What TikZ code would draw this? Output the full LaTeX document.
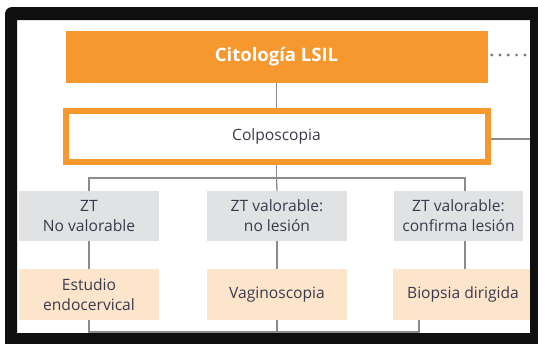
\documentclass[tikz,border=0pt]{standalone}
\usepackage{fontspec}
\setmainfont{Open Sans}
\definecolor{naranja}{HTML}{F7982E}
\definecolor{gris}{HTML}{E1E2E4}
\definecolor{melocoton}{HTML}{FDE5CC}
\definecolor{texto}{HTML}{3A3A4C}
\definecolor{linea}{HTML}{8C8C8C}
\tikzset{
  caja/.style={shape=rectangle, inner sep=0pt, align=center, text=texto,
    font=\fontsize{15.6}{20}\selectfont},
  zona/.style={caja, fill=gris, minimum width=140pt, minimum height=50pt},
  conducta/.style={caja, fill=melocoton, minimum width=140pt, minimum height=51pt},
  conector/.style={draw=linea, line width=1.3pt},
  puntos/.style={draw=linea!85!black, line width=3.2pt, line cap=round, dash pattern=on 0pt off 8.3pt},
}
\newcommand{\zona}{\node[zona]}
\newcommand{\conducta}{\node[conducta]}

\begin{document}
\begin{tikzpicture}[x=1pt,y=-1pt]
	\useasboundingbox (0,0) rectangle (538,343);
	\node[caja, fill=naranja, minimum width=422pt, minimum height=52pt, text=white,
		font=\bfseries\fontsize{18.5}{22}\selectfont] (citologia) at (276.5,57) {Citología LSIL};
	\node[caja, draw=naranja, line width=6pt, fill=white, minimum width=422pt,
		minimum height=51pt] (colpo) at (276.5,136.5) {Colposcopia};
	\zona (z1) at (89,216) {ZT\\No valorable};
	\zona (z2) at (277,216) {ZT valorable:\\no lesión};
	\zona (z3) [minimum width=129pt] at (458.5,216) {ZT valorable:\\confirma lesión};
	\conducta (c1) at (89,294.5) {Estudio\\endocervical};
	\conducta (c2) at (277,294.5) {Vaginoscopia};
	\conducta (c3) at (463,294.5) {Biopsia dirigida};
	\coordinate (bus) at (276.5,178);
	\coordinate (punto) at (530,55);
	\coordinate (salida) at (535,139);
	\coordinate (cierre) at (419,332);
	% conectores
	\draw[conector] (citologia.south) -- (colpo.north);
	\draw[puntos] ([xshift=4pt]citologia.east |- punto) -- (punto);
	\draw[conector] (colpo.east |- salida) -- (salida);
	\draw[conector] (colpo.south) -- (bus);
	\draw[conector] (z1.north) |- (bus) -| ([xshift=6.5pt]z3.north);
	\draw[conector] (bus) -- (z2.north);
	\draw[conector] (z1.south) -- (c1.north);
	\draw[conector] (z2.south) -- (c2.north);
	\draw[conector] ([xshift=6.5pt]z3.south) -- ([xshift=2pt]c3.north);
	\draw[conector] (c1.south) |- (cierre) -- (cierre |- c3.south);
	\draw[conector] (c2.south) -- (c2.south |- cierre);
	% marco
	\fill[black!94, even odd rule] (5,7) [rounded corners=7pt] rectangle (560,365)
		[sharp corners] (17,20) rectangle (530,333);
\end{tikzpicture}
\end{document}
